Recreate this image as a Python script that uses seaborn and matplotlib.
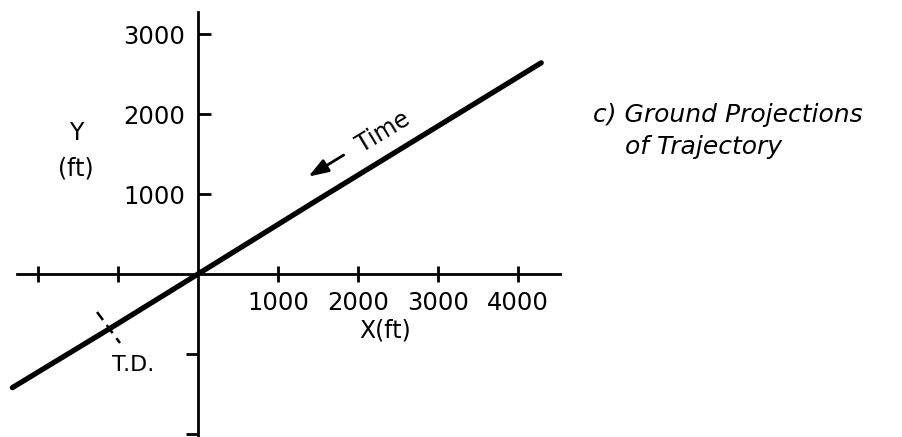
import matplotlib
matplotlib.use("Agg")
import matplotlib.pyplot as plt
import seaborn as sns
import pandas as pd

# Ground track of the trajectory (ft)
track_x = [-2320, -1100, 0, 1500, 4290]
track_y = [-1420, -680, 0, 930, 2640]

x_ticks = [1000, 2000, 3000, 4000]
x_neg_ticks = [-2000, -1000]
y_ticks = [1000, 2000, 3000]
y_neg_ticks = [-2000, -1000]
x_tick_labels = ["1000", "2000", "3000", "4000"]
y_tick_labels = ["1000", "2000", "3000"]

sns.set_theme(style="white")
plt.rcParams["font.family"] = ["DejaVu Sans"]
plt.rcParams["text.color"] = "black"
plt.rcParams["xtick.labelcolor"] = "black"
plt.rcParams["ytick.labelcolor"] = "black"

fig = plt.figure(figsize=(9.03, 4.37), dpi=100)
ax = fig.add_axes([0, 0, 1, 1])
ax.set_facecolor("white")

df = pd.DataFrame({"X": track_x, "Y": track_y})
sns.lineplot(data=df, x="X", y="Y", sort=False, color="black",
             linewidth=3.8, solid_capstyle="round", ax=ax)

# 80 px per 1000 ft on both axes, origin near (198, 274) px
ax.set_xlim(-2475, 8812)
ax.set_ylim(-2037, 3425)

for s in ("top", "right"):
    ax.spines[s].set_visible(False)
for s in ("left", "bottom"):
    ax.spines[s].set_position(("data", 0))
    ax.spines[s].set_color("black")
    ax.spines[s].set_linewidth(2.0)
ax.spines["bottom"].set_bounds(-2260, 4530)
ax.spines["left"].set_bounds(-2040, 3280)

ax.set_xticks(x_ticks)
ax.set_xticklabels(x_tick_labels)
ax.set_xticks(x_neg_ticks, minor=True)
ax.set_yticks(y_ticks)
ax.set_yticklabels(y_tick_labels)
ax.set_yticks(y_neg_ticks, minor=True)

ax.tick_params(axis="x", which="both", direction="inout", length=11, width=2.0,
               color="black", bottom=True, labelsize=17.5, pad=7,
               labelcolor="black")
ax.tick_params(axis="y", which="major", direction="in", length=9, width=2.0,
               color="black", left=True, labelsize=17.5, pad=9,
               labelcolor="black")
ax.tick_params(axis="y", which="minor", direction="out", length=9, width=2.0,
               color="black", left=True)
ax.set_xlabel("")
ax.set_ylabel("")

# axis titles
ax.text(-1525, 1760, "Y", fontsize=17, ha="center", va="center", color="black")
ax.text(-1525, 1320, "(ft)", fontsize=17, ha="center", va="center", color="black")
ax.text(2340, -700, "X(ft)", fontsize=17, ha="center", va="center", color="black")

# touchdown mark
ax.plot([-1262, -975], [-475, -862], color="black", linewidth=1.8,
        linestyle=(0, (4, 2.5)))
ax.text(-810, -1140, "T.D.", fontsize=16, ha="center", va="center", color="black")

# direction of travel
ax.text(2320, 1770, "Time", fontsize=17, ha="center", va="center",
        rotation=31, rotation_mode="anchor", color="black")
ax.annotate("", xy=(1350, 1200), xytext=(1850, 1505),
            arrowprops=dict(arrowstyle="-|>,head_length=1.0,head_width=0.35",
                            color="black", linewidth=2.0))

ax.text(0.657, 0.70, "c) Ground Projections\n    of Trajectory",
        transform=ax.transAxes, fontsize=18, style="italic", color="black",
        ha="left", va="center", linespacing=1.45)

fig.savefig("out.png", dpi=100, facecolor="white")
